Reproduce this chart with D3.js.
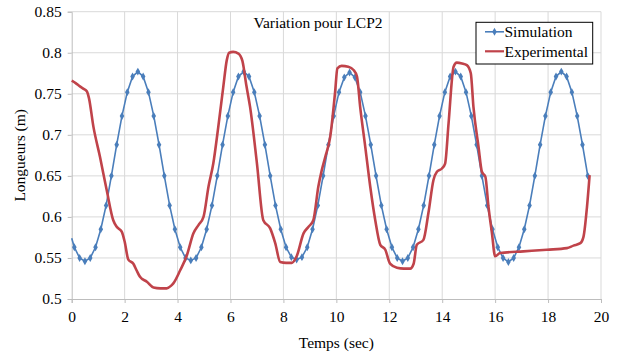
<!DOCTYPE html>
<html>
<head>
<meta charset="utf-8">
<script src="https://cdn.jsdelivr.net/npm/d3@7"></script>
<style>
    body { margin: 0; background: #fff; }
    text { font-family: 'Liberation Serif', 'Times New Roman', serif; fill: #000; }
</style>
</head>
<body>
<script>
// data
const xTicks = [0, 2, 4, 6, 8, 10, 12, 14, 16, 18, 20]
const yTicks = [0.5, 0.55, 0.6, 0.65, 0.7, 0.75, 0.8, 0.85]

// simulation, one marker every 0.2 s
const simTime = [
    0, 0.1, 0.3, 0.5, 0.7, 0.9, 1.1, 1.3, 1.5, 1.7, 1.9, 2.1, 2.3, 2.5, 2.7, 2.9, 3.1, 3.3, 3.5, 3.7, 3.9,
    4.1, 4.3, 4.5, 4.7, 4.9, 5.1, 5.3, 5.5, 5.7, 5.9, 6.1, 6.3, 6.5, 6.7, 6.9, 7.1, 7.3, 7.5, 7.7, 7.9,
    8.1, 8.3, 8.5, 8.7, 8.9, 9.1, 9.3, 9.5, 9.7, 9.9, 10.1, 10.3, 10.5, 10.7, 10.9, 11.1, 11.3, 11.5, 11.7, 11.9,
    12.1, 12.3, 12.5, 12.7, 12.9, 13.1, 13.3, 13.5, 13.7, 13.9, 14.1, 14.3, 14.5, 14.7, 14.9, 15.1, 15.3, 15.5, 15.7, 15.9,
    16.1, 16.3, 16.5, 16.7, 16.9, 17.1, 17.3, 17.5, 17.7, 17.9, 18.1, 18.3, 18.5, 18.7, 18.9, 19.1, 19.3, 19.5
]
const simValue = [
    0.574, 0.563, 0.550, 0.546, 0.550, 0.563, 0.585, 0.614, 0.650, 0.688, 0.723, 0.752, 0.771, 0.777, 0.771, 0.752, 0.723, 0.688, 0.650, 0.614, 0.585,
    0.563, 0.550, 0.547, 0.550, 0.563, 0.585, 0.614, 0.650, 0.688, 0.723, 0.752, 0.771, 0.777, 0.771, 0.752, 0.723, 0.688, 0.650, 0.614, 0.585,
    0.563, 0.551, 0.548, 0.551, 0.563, 0.585, 0.614, 0.650, 0.688, 0.723, 0.752, 0.770, 0.776, 0.770, 0.752, 0.723, 0.688, 0.650, 0.614, 0.585,
    0.563, 0.550, 0.546, 0.550, 0.563, 0.585, 0.614, 0.650, 0.688, 0.723, 0.752, 0.771, 0.777, 0.771, 0.752, 0.723, 0.688, 0.650, 0.614, 0.585,
    0.563, 0.550, 0.545, 0.550, 0.563, 0.585, 0.614, 0.650, 0.688, 0.723, 0.752, 0.771, 0.777, 0.771, 0.752, 0.723, 0.688, 0.650
]

// experimental trace
const expTime = [
    0, 0.15, 0.31, 0.45, 0.57, 0.65, 0.82, 1.07, 1.32, 1.57, 1.7, 1.89, 2.0, 2.14, 2.33, 2.45, 2.58, 2.84, 3.09, 3.35,
    3.59, 3.75, 3.84, 4.1, 4.35, 4.6, 4.79, 4.98, 5.17, 5.35, 5.54, 5.73, 5.86, 5.95, 6.1, 6.3, 6.45, 6.6, 6.74, 7.0,
    7.24, 7.5, 7.69, 7.88, 8.1, 8.32, 8.5, 8.76, 8.95, 9.13, 9.32, 9.45, 9.58, 9.77, 9.95, 10.04, 10.2, 10.45, 10.65, 10.78,
    10.9, 11.09, 11.28, 11.47, 11.66, 11.85, 12.03, 12.29, 12.55, 12.79, 12.92, 13.04, 13.29, 13.48, 13.67, 13.8, 13.99, 14.11, 14.24, 14.43,
    14.55, 14.75, 14.93, 15.08, 15.18, 15.37, 15.5, 15.63, 15.75, 15.88, 16.0, 16.19, 17.07, 17.96, 18.71, 18.96, 19.22, 19.34, 19.47, 19.57
]
const expValue = [
    0.766, 0.763, 0.759, 0.756, 0.753, 0.745, 0.710, 0.673, 0.633, 0.596, 0.588, 0.582, 0.570, 0.548, 0.543, 0.535, 0.527, 0.521, 0.514, 0.513,
    0.513, 0.516, 0.519, 0.535, 0.553, 0.580, 0.590, 0.600, 0.637, 0.665, 0.710, 0.759, 0.791, 0.800, 0.801, 0.799, 0.790, 0.760, 0.734, 0.665,
    0.596, 0.586, 0.568, 0.545, 0.544, 0.544, 0.552, 0.580, 0.588, 0.596, 0.637, 0.657, 0.673, 0.698, 0.751, 0.781, 0.784, 0.783, 0.779, 0.771,
    0.734, 0.686, 0.637, 0.596, 0.566, 0.560, 0.543, 0.538, 0.537, 0.537, 0.543, 0.566, 0.572, 0.605, 0.645, 0.655, 0.659, 0.665, 0.714, 0.783,
    0.788, 0.787, 0.785, 0.775, 0.734, 0.686, 0.655, 0.649, 0.612, 0.580, 0.552, 0.556, 0.558, 0.560, 0.562, 0.565, 0.568, 0.576, 0.612, 0.651
]

const simData = simTime.map((t, i) => ({t: t, v: simValue[i]}))
const expData = expTime.map((t, i) => ({t: t, v: expValue[i]}))

// dimensions
const width = 618
const height = 356
const margin = {top: 11.7, right: 17, bottom: 57, left: 71.7}

const blue = '#4a7ebb'
const red = '#c0434a'
const gridColor = '#d9d9d9'

const svg = d3.select('body').append('svg')
    .attr('width', width)
    .attr('height', height)

// scales
const xScale = d3.scaleLinear()
    .domain([0, 20])
    .range([margin.left, width - margin.right])

const yScale = d3.scaleLinear()
    .domain([0.5, 0.85])
    .range([height - margin.bottom, margin.top])

// grid
svg.append('g')
    .selectAll('line')
    .data(xTicks.slice(1))
    .join('line')
    .attr('x1', d => xScale(d))
    .attr('x2', d => xScale(d))
    .attr('y1', yScale(0.85))
    .attr('y2', yScale(0.5))
    .attr('stroke', gridColor)

svg.append('g')
    .selectAll('line')
    .data(yTicks.slice(1))
    .join('line')
    .attr('x1', xScale(0))
    .attr('x2', xScale(20))
    .attr('y1', d => yScale(d))
    .attr('y2', d => yScale(d))
    .attr('stroke', gridColor)

// axes
const xAxis = d3.axisBottom(xScale)
    .tickValues(xTicks)
    .tickFormat(d3.format('d'))
    .tickSize(4)
    .tickPadding(8)
svg.append('g')
    .attr('class', 'x-axis')
    .attr('transform', `translate(0,${yScale(0.5)})`)
    .call(xAxis)

const yAxis = d3.axisLeft(yScale)
    .tickValues(yTicks)
    .tickFormat(d => d3.format('.2~f')(d))
    .tickSize(4)
    .tickPadding(6)
svg.append('g')
    .attr('class', 'y-axis')
    .attr('transform', `translate(${xScale(0)},0)`)
    .call(yAxis)

svg.selectAll('.x-axis path, .y-axis path, .x-axis line, .y-axis line')
    .attr('stroke', '#bdbdbd')
svg.selectAll('.x-axis text, .y-axis text')
    .attr('font-family', "'Liberation Serif', serif")
    .attr('font-size', 15.5)
    .attr('fill', '#000')

// lines
const line = d3.line()
    .x(d => xScale(d.t))
    .y(d => yScale(d.v))

svg.append('path')
    .datum(simData)
    .attr('fill', 'none')
    .attr('stroke', blue)
    .attr('stroke-width', 1.6)
    .attr('d', line)

svg.append('g')
    .selectAll('path')
    .data(simData.filter(d => d.t > 0))
    .join('path')
    .attr('transform', d => `translate(${xScale(d.t)},${yScale(d.v)})`)
    .attr('d', d3.symbol(d3.symbolDiamond, 18))
    .attr('fill', blue)

svg.append('path')
    .datum(expData)
    .attr('fill', 'none')
    .attr('stroke', red)
    .attr('stroke-width', 2.6)
    .attr('stroke-linejoin', 'round')
    .attr('d', line.curve(d3.curveMonotoneX))

// labels
svg.append('text')
    .attr('x', 318)
    .attr('y', 28.3)
    .attr('text-anchor', 'middle')
    .attr('font-size', 15.5)
    .text('Variation pour LCP2')

svg.append('text')
    .attr('x', (xScale(0) + xScale(20)) / 2)
    .attr('y', 348)
    .attr('text-anchor', 'middle')
    .attr('font-size', 15.5)
    .text('Temps (sec)')

svg.append('text')
    .attr('transform', `translate(25,${(yScale(0.5) + yScale(0.85)) / 2}) rotate(-90)`)
    .attr('text-anchor', 'middle')
    .attr('font-size', 15.5)
    .text('Longueurs (m)')

// legend
const legend = svg.append('g')
    .attr('transform', 'translate(476,22.3)')

legend.append('rect')
    .attr('width', 116.7)
    .attr('height', 41.7)
    .attr('fill', '#fff')
    .attr('stroke', '#000')
    .attr('stroke-width', 1)

const legendItems = [
    {name: 'Simulation', color: blue, y: 9.5, width: 1.6},
    {name: 'Experimental', color: red, y: 29, width: 2.2}
]
legendItems.forEach(item => {
    legend.append('line')
        .attr('x1', 9)
        .attr('x2', 28)
        .attr('y1', item.y)
        .attr('y2', item.y)
        .attr('stroke', item.color)
        .attr('stroke-width', item.width)
    legend.append('text')
        .attr('x', 28.5)
        .attr('y', item.y + 5.3)
        .attr('font-size', 15.5)
        .text(item.name)
})
legend.append('path')
    .attr('transform', 'translate(18.5,9.5)')
    .attr('d', d3.symbol(d3.symbolDiamond, 18))
    .attr('fill', blue)
</script>
</body>
</html>
